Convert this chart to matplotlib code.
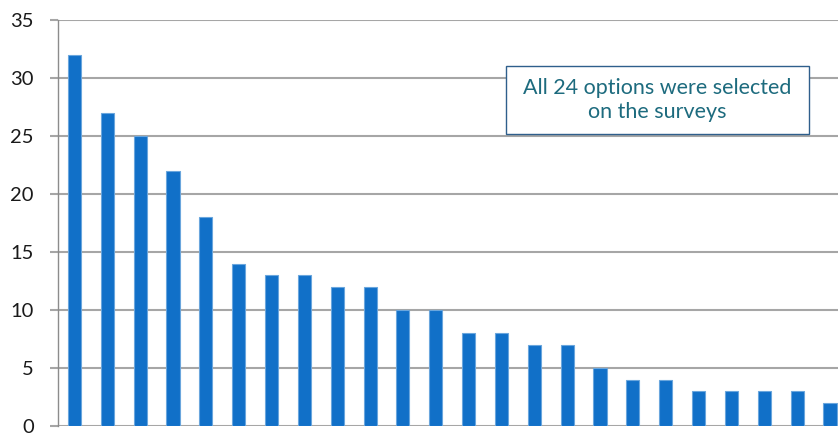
import matplotlib.pyplot as plt
from matplotlib.patches import Rectangle

values = [32, 27, 25, 22, 18, 14, 13, 13, 12, 12, 10, 10, 8, 8, 7, 7, 5, 4, 4, 3, 3, 3, 3, 2]
yticks = [0, 5, 10, 15, 20, 25, 30, 35]
note = "All 24 options were selected\non the surveys"

plt.rcParams['font.family'] = ['Lato', 'DejaVu Sans']

W, H = 838, 434
fig = plt.figure(figsize=(W / 100, H / 100), dpi=100)
# the right end of the axes runs past the figure edge, as in the original
ax = fig.add_axes([58 / W, 1 - 426 / H, 788.4 / W, 406 / H])

x = list(range(len(values)))
ax.bar(x, values, width=0.4, color='#1170c8', edgecolor='#6aa6dd', linewidth=0.8, zorder=3)

ax.set_xlim(-0.5, len(values) - 0.5)
ax.set_ylim(0, 35)
ax.set_yticks(yticks)
ax.set_xticks([])
ax.yaxis.grid(True, color='#a6a6a6', linewidth=1.5, zorder=0)
ax.tick_params(axis='y', length=5.8, width=1.5, color='#a6a6a6', pad=11.5,
               labelsize=14.5, labelcolor='#1a1a1a')
for s in ['top', 'right', 'bottom']:
    ax.spines[s].set_visible(False)
ax.spines['left'].set_color('#8c8c8c')
ax.spines['left'].set_linewidth(1.0)
ax.spines['left'].set_zorder(4)

# note box
fig.patches.append(Rectangle((506 / W, 1 - 134 / H), 303 / W, 68 / H, transform=fig.transFigure,
                             facecolor='white', edgecolor='#2f5f8c', linewidth=1.0, zorder=5))
fig.text(657 / W, 1 - 100 / H, note, ha='center', va='center', fontsize=15.5,
         color='#1d6b7e', linespacing=1.2, zorder=6)

fig.savefig('out.png', dpi=100)
